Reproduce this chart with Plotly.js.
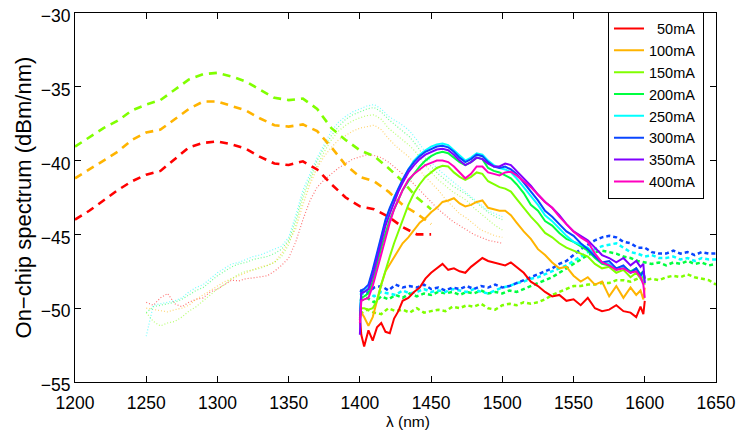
<!DOCTYPE html>
<html>
<head>
<meta charset="utf-8">
<script src="https://cdn.plot.ly/plotly-3.0.1.min.js"></script>
<style>html,body{margin:0;padding:0;background:#fff;}#chart{width:740px;height:430px;}</style>
</head>
<body>
<div id="chart"></div>
<script>
// ---------- data ----------
var currents = ["50mA","100mA","150mA","200mA","250mA","300mA","350mA","400mA"];
var colors = ["#FF0000","#FFB400","#80FF00","#00FF40","#00FFFF","#0A46FF","#8000FF","#FF00BF"];

// solid curves (legend series)
var lamSolid = [1400,1401,1403,1406,1409,1412,1415,1418,1421,1424,1427,1430,1434,1438,1442,1446,1450,1454,1458,1462,1466,1470,1474,1478,1482,1486,1490,1494,1498,1502,1506,1510,1515,1520,1525,1530,1535,1540,1545,1550,1555,1560,1565,1570,1575,1580,1585,1590,1594,1597,1599,1600];
var s50  = [-50.6,-51.8,-52.6,-51.5,-52.2,-51.3,-51.0,-51.6,-51.7,-50.7,-50.2,-49.5,-49.3,-48.9,-48.6,-48.0,-47.6,-47.3,-47.0,-47.4,-47.3,-47.5,-47.6,-47.2,-46.9,-46.6,-46.8,-46.9,-47.0,-47.1,-46.9,-47.2,-47.6,-48.2,-48.5,-48.9,-49.2,-49.1,-49.5,-49.4,-49.8,-49.3,-50.0,-50.2,-50.1,-49.8,-50.2,-50.3,-50.6,-49.9,-50.4,-49.5];
var s100 = [-50.0,-50.3,-50.6,-51.2,-50.6,-49.5,-48.4,-47.5,-47.0,-46.5,-46.0,-45.6,-45.2,-44.7,-44.2,-43.9,-43.5,-43.2,-42.8,-42.7,-42.55,-42.9,-43.1,-43.0,-42.8,-42.7,-43.2,-43.3,-43.4,-43.4,-43.7,-44.2,-44.8,-45.3,-46.0,-46.4,-46.9,-47.3,-47.2,-47.8,-48.2,-47.9,-48.4,-48.2,-49.2,-48.5,-49.3,-48.6,-49.1,-48.8,-49.4,-48.6];
var s150 = [-50.8,-50.0,-50.0,-50.1,-50.0,-49.5,-48.4,-47.4,-46.5,-45.6,-44.8,-44.0,-43.0,-42.2,-41.6,-41.1,-40.8,-40.5,-40.35,-40.4,-40.8,-41.1,-41.3,-41.1,-40.8,-40.9,-41.4,-41.6,-41.8,-41.9,-42.1,-42.6,-43.2,-43.8,-44.3,-44.9,-45.2,-45.6,-45.9,-46.1,-46.3,-46.5,-47.0,-47.3,-47.2,-47.6,-47.4,-47.9,-47.6,-48.0,-47.8,-48.4];
var s200 = [-50.5,-49.3,-49.2,-49.0,-48.2,-47.0,-45.9,-44.9,-44.0,-43.3,-42.6,-42.0,-41.4,-40.9,-40.4,-40.0,-39.7,-39.5,-39.4,-39.5,-39.8,-40.1,-40.3,-40.1,-39.8,-39.9,-40.5,-40.7,-40.8,-41.0,-41.2,-41.6,-42.2,-43.0,-43.4,-44.1,-44.4,-44.9,-45.3,-45.5,-45.8,-46.1,-46.6,-47.0,-47.1,-47.3,-47.2,-47.5,-47.3,-47.7,-47.5,-48.0];
var s250 = [-50.2,-49.0,-48.9,-48.6,-47.6,-46.4,-45.2,-44.1,-43.3,-42.5,-41.9,-41.3,-40.6,-40.0,-39.6,-39.3,-39.05,-38.9,-38.85,-38.95,-39.3,-39.7,-40.0,-39.8,-39.5,-39.6,-40.0,-40.3,-40.5,-40.6,-40.8,-41.2,-41.8,-42.4,-43.0,-43.7,-44.1,-44.6,-45.1,-45.5,-45.7,-45.9,-46.4,-46.9,-47.0,-47.4,-47.2,-47.6,-47.4,-47.9,-47.6,-48.3];
var s300 = [-50.8,-48.8,-48.7,-48.4,-47.4,-46.2,-45.0,-44.0,-43.2,-42.5,-41.9,-41.3,-40.6,-40.1,-39.7,-39.4,-39.2,-39.05,-39.0,-39.1,-39.4,-39.8,-40.1,-39.9,-39.6,-39.7,-40.1,-40.4,-40.5,-40.4,-40.6,-40.9,-41.5,-42.1,-42.7,-43.4,-43.8,-44.3,-44.8,-45.1,-45.6,-46.0,-46.5,-46.9,-46.8,-47.3,-47.1,-47.6,-47.3,-47.8,-47.5,-48.0];
var s350 = [-51.8,-49.0,-48.9,-48.7,-47.8,-46.6,-45.4,-44.4,-43.6,-42.8,-42.1,-41.5,-40.8,-40.3,-39.9,-39.6,-39.4,-39.25,-39.2,-39.3,-39.6,-40.0,-40.3,-40.1,-39.8,-39.9,-40.2,-40.4,-40.4,-40.2,-40.3,-40.7,-41.2,-41.7,-42.3,-42.8,-43.2,-43.7,-44.3,-44.8,-45.1,-45.4,-45.9,-46.4,-46.6,-46.9,-46.6,-47.1,-46.8,-47.2,-47.0,-48.3];
var s400 = [-51.0,-49.5,-49.4,-49.3,-48.5,-47.4,-46.3,-45.2,-44.2,-43.3,-42.6,-42.0,-41.3,-40.9,-40.6,-40.3,-40.15,-40.0,-40.0,-40.1,-40.4,-40.8,-41.2,-40.9,-40.4,-40.4,-40.8,-40.9,-41.0,-40.8,-40.75,-41.0,-41.4,-41.8,-42.3,-42.8,-43.2,-43.8,-44.3,-44.8,-45.2,-45.5,-46.3,-46.9,-47.1,-47.4,-47.3,-47.6,-47.5,-47.9,-48.4,-49.3];

// thick dashed curves (1200-1450)
var lamDash = [1200,1210,1220,1230,1240,1250,1260,1270,1280,1290,1300,1310,1320,1330,1340,1350,1360,1370,1380,1390,1400,1410,1420,1430,1440,1450];
var d50  = [-44.0,-43.4,-42.7,-42.0,-41.4,-40.95,-40.7,-39.9,-39.1,-38.8,-38.7,-38.9,-39.2,-39.75,-40.2,-40.3,-40.05,-40.6,-41.6,-42.5,-43.1,-43.3,-43.8,-44.5,-45.0,-45.0];
var d100 = [-41.2,-40.6,-40.0,-39.4,-38.6,-38.1,-37.9,-37.2,-36.5,-36.0,-36.0,-36.3,-36.6,-37.15,-37.6,-37.7,-37.55,-38.0,-39.1,-40.3,-41.1,-41.4,-42.1,-43.0,-43.6,-44.3];
var d150 = [-39.05,-38.4,-37.8,-37.3,-36.6,-36.2,-35.9,-35.2,-34.5,-34.15,-34.05,-34.3,-34.65,-35.2,-35.75,-35.9,-35.8,-36.5,-37.8,-38.6,-39.3,-39.7,-40.5,-41.4,-42.5,-43.3];

// thin dotted curves (1250-1500)
var lamThin = [1250,1255,1260,1265,1270,1275,1280,1285,1290,1295,1300,1305,1310,1315,1320,1325,1330,1335,1340,1345,1350,1355,1360,1365,1370,1375,1380,1385,1390,1395,1400,1405,1410,1415,1420,1425,1430,1435,1440,1445,1450,1455,1460,1465,1470,1475,1480,1485,1490,1495,1500];
var t50  = [-49.6,-49.8,-49.3,-49.0,-49.7,-49.9,-49.6,-49.4,-49.3,-48.9,-48.7,-48.4,-48.1,-48.15,-48.0,-47.95,-47.9,-47.8,-47.5,-47.1,-46.6,-45.5,-44.0,-42.7,-41.8,-41.3,-40.9,-40.5,-40.2,-39.9,-39.75,-39.6,-39.65,-39.8,-40.1,-40.5,-40.9,-41.3,-41.8,-42.3,-42.8,-43.3,-43.7,-44.1,-44.4,-44.7,-45.0,-45.2,-45.4,-45.5,-45.6];
var t100 = [-50.0,-50.1,-50.2,-50.25,-50.1,-50.0,-49.8,-49.4,-49.1,-48.8,-48.5,-48.2,-48.0,-47.8,-47.6,-47.4,-47.2,-47.1,-46.9,-46.3,-45.5,-44.6,-43.0,-41.6,-40.5,-39.7,-39.1,-38.6,-38.3,-38.0,-37.8,-37.7,-37.6,-37.9,-38.5,-39.0,-39.4,-39.8,-40.4,-41.0,-41.5,-42.0,-42.6,-43.1,-43.6,-43.9,-44.3,-44.7,-44.9,-45.1,-45.2];
var t150 = [-50.3,-50.9,-51.2,-51.0,-50.9,-50.6,-50.2,-49.9,-49.5,-49.1,-48.7,-48.4,-48.0,-47.7,-47.5,-47.4,-47.3,-47.1,-46.9,-46.5,-45.7,-44.3,-42.6,-41.3,-40.3,-39.4,-38.6,-38.0,-37.6,-37.3,-37.1,-36.95,-36.9,-37.2,-37.8,-38.2,-38.6,-39.0,-39.5,-40.2,-40.8,-41.3,-41.7,-42.1,-42.4,-42.7,-43.2,-43.6,-44.0,-44.4,-44.7];
var t200 = [-50.3,-49.9,-49.8,-49.7,-49.6,-49.4,-49.1,-48.8,-48.6,-48.2,-47.8,-47.5,-47.2,-47.0,-46.9,-46.7,-46.6,-46.5,-46.3,-46.0,-45.4,-44.0,-42.3,-41.1,-40.0,-39.1,-38.3,-37.7,-37.2,-36.9,-36.7,-36.5,-36.4,-36.7,-37.2,-37.6,-38.0,-38.4,-39.0,-39.7,-40.4,-40.9,-41.3,-41.7,-42.0,-42.3,-42.7,-43.1,-43.5,-43.8,-44.0];
var t250 = [-51.9,-49.8,-49.7,-49.6,-49.5,-49.3,-48.9,-48.6,-48.4,-48.0,-47.6,-47.3,-47.0,-46.9,-46.7,-46.5,-46.4,-46.2,-46.0,-45.8,-45.2,-43.7,-42.0,-40.9,-39.8,-38.9,-38.0,-37.4,-37.0,-36.7,-36.5,-36.3,-36.2,-36.5,-37.0,-37.3,-37.6,-38.0,-38.6,-39.3,-40.1,-40.6,-41.0,-41.4,-41.8,-42.2,-42.6,-43.0,-43.4,-43.6,-43.8];

// thick dotted curves (1400-1650)
var lamDot = [1400,1405,1410,1415,1420,1425,1430,1435,1440,1445,1450,1455,1460,1465,1470,1475,1480,1485,1490,1495,1500,1505,1510,1515,1520,1525,1530,1535,1540,1545,1550,1555,1560,1565,1570,1575,1580,1585,1590,1595,1600,1605,1610,1615,1620,1625,1630,1635,1640,1645,1650];
var p150 = [-50.4,-50.1,-50.3,-50.4,-50.0,-50.2,-50.1,-50.3,-50.0,-50.3,-50.2,-50.1,-50.2,-49.9,-50.0,-49.8,-49.9,-49.7,-50.0,-50.1,-49.8,-49.7,-49.8,-49.6,-49.7,-49.6,-49.4,-49.1,-48.9,-48.7,-48.5,-48.5,-48.4,-48.4,-48.3,-48.3,-48.1,-48.1,-48.2,-48.0,-48.1,-48.0,-48.1,-47.9,-47.8,-47.9,-47.7,-47.9,-48.0,-48.1,-48.4];
var p200 = [-49.5,-49.3,-49.6,-49.2,-49.4,-49.1,-49.3,-49.0,-49.2,-49.0,-49.1,-48.9,-49.0,-48.9,-49.1,-48.9,-49.0,-48.8,-49.0,-48.9,-49.0,-48.8,-48.9,-48.7,-48.5,-48.3,-48.1,-47.9,-47.6,-47.3,-47.0,-46.7,-46.4,-46.2,-46.1,-46.2,-46.3,-46.5,-46.6,-46.8,-46.9,-47.0,-46.9,-47.1,-46.9,-47.0,-46.8,-47.0,-46.9,-47.1,-47.0];
var p250 = [-49.1,-48.9,-49.2,-48.9,-49.0,-49.1,-48.8,-49.0,-48.9,-48.7,-48.9,-48.8,-48.9,-48.7,-48.8,-48.9,-48.7,-48.9,-49.0,-48.8,-48.6,-48.5,-48.3,-48.2,-48.0,-47.9,-47.7,-47.5,-47.3,-47.1,-46.8,-46.5,-46.2,-46.0,-45.8,-45.7,-45.6,-45.9,-46.2,-46.3,-46.5,-46.4,-46.6,-46.6,-46.5,-46.7,-46.6,-46.8,-46.6,-46.7,-46.7];
var p300 = [-48.8,-49.0,-48.6,-48.5,-48.8,-48.4,-48.6,-48.5,-48.6,-48.4,-48.7,-48.6,-48.8,-48.6,-48.7,-48.5,-48.7,-48.5,-48.6,-48.4,-48.6,-48.5,-48.3,-48.1,-47.9,-47.7,-47.5,-47.3,-47.0,-46.8,-46.4,-46.0,-45.7,-45.4,-45.2,-45.1,-45.2,-45.5,-45.6,-45.9,-45.9,-46.2,-46.3,-46.3,-46.1,-46.3,-46.2,-46.4,-46.2,-46.3,-46.3];

var xTicks = [1200,1250,1300,1350,1400,1450,1500,1550,1600,1650];
var yTicks = [-55,-50,-45,-40,-35,-30];
var xTitle = "λ (nm)";
var yTitle = "On−chip spectrum (dBm/nm)";

// ---------- traces ----------
var traces = [];
function add(x, y, color, dash, width, opacity, name, legend) {
  traces.push({x: x, y: y, type: "scatter", mode: "lines", name: name,
    showlegend: legend, opacity: opacity, hoverinfo: "skip",
    line: {color: color, dash: dash, width: width, shape: "linear"}});
}
// thin dotted
[[t50,0],[t100,1],[t150,2],[t200,3],[t250,4]].forEach(function(p){
  add(lamThin, p[0], colors[p[1]], "1px,2px", 1.2, 0.55, currents[p[1]], false);
});
// thick dashed
[[d50,0],[d100,1],[d150,2]].forEach(function(p){
  add(lamDash, p[0], colors[p[1]], "8px,6px", 2.6, 1, currents[p[1]], false);
});
// thick dotted
[[p150,2],[p200,3],[p250,4],[p300,5]].forEach(function(p){
  add(lamDot, p[0], colors[p[1]], "4px,3px", 2.5, 1, currents[p[1]], false);
});
// solid (legend)
var solids = [s50,s100,s150,s200,s250,s300,s350,s400];
var legendNames = ["\u200750mA\u2009","100mA\u2009","150mA\u2009","200mA\u2009","250mA\u2009","300mA\u2009","350mA\u2009","400mA\u2009"];
solids.forEach(function(s, i){
  add(lamSolid, s, colors[i], "solid", 2, 1, legendNames[i], true);
});

var font = "Liberation Sans, Arial, Helvetica, sans-serif";
var layout = {
  width: 740, height: 430,
  margin: {l: 75, r: 24, t: 13, b: 48, pad: 0},
  paper_bgcolor: "#ffffff", plot_bgcolor: "#ffffff",
  font: {family: font, color: "#000000", size: 17.5},
  showlegend: true,
  legend: {x: 0.8315, y: 1.004, xanchor: "left", yanchor: "top",
    bgcolor: "#ffffff", bordercolor: "#000000", borderwidth: 1,
    font: {family: font, size: 14.5, color: "#000000"}, tracegroupgap: 0, itemwidth: 30},
  xaxis: {range: [1200, 1650], tickvals: xTicks, ticks: "inside", ticklen: 6, tickwidth: 1,
    tickcolor: "#000", showline: true, linecolor: "#000", linewidth: 1, mirror: "ticks",
    showgrid: false, zeroline: false, tickfont: {size: 17.5}, ticklabelstandoff: 5},
  yaxis: {range: [-55, -30], tickvals: yTicks, ticks: "inside", ticklen: 6, tickwidth: 1,
    tickcolor: "#000", showline: true, linecolor: "#000", linewidth: 1, mirror: "ticks",
    showgrid: false, zeroline: false, tickfont: {size: 17.5}, ticklabelshift: 3},
  annotations: [
    {text: xTitle, xref: "paper", yref: "paper", x: 0.5195, y: -0.1057, xanchor: "center", yanchor: "middle",
     showarrow: false, font: {size: 15.5, family: font}},
    {text: yTitle, xref: "paper", yref: "paper", x: -0.0796, y: 0.5, xanchor: "center", yanchor: "middle",
     textangle: -90, showarrow: false, font: {size: 22, family: font}}
  ]
};
Plotly.newPlot("chart", traces, layout, {staticPlot: true, displayModeBar: false});
</script>
</body>
</html>
